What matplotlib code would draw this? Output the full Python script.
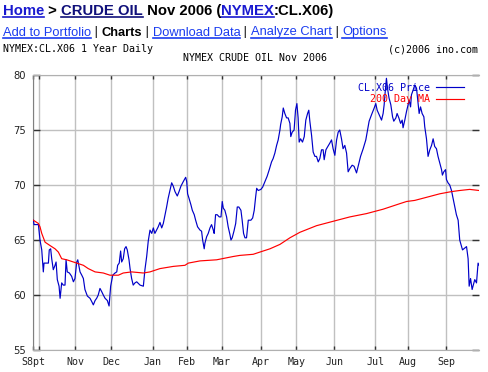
import numpy as np
import matplotlib
matplotlib.use("Agg")
import matplotlib.pyplot as plt
from matplotlib.lines import Line2D

W, H = 489, 372

# trading-day index (0 = late Sep 2005) and settle price
price_day = [0.0, 0.4, 2.9, 3.8, 4.8, 5.7, 6.1, 8.6, 9.1, 9.9, 10.5, 11.4, 12.4, 13.0, 13.7,
             14.7, 15.3, 16.2, 17.1, 18.1, 18.7, 19.4, 20.6, 21.9, 22.9, 23.8, 24.8, 25.4,
             26.1, 26.7, 27.7, 28.6, 29.5, 30.9, 32.4, 33.4, 34.3, 35.3, 36.2, 37.1, 38.1,
             39.1, 40.0, 41.0, 42.3, 43.3, 44.2, 45.4, 46.7, 47.7, 48.2, 49.1, 49.9, 50.5,
             51.4, 52.2, 53.0, 53.7, 54.7, 55.3, 56.2, 57.1, 58.1, 59.1, 61.0, 62.9, 63.8,
             64.8, 65.7, 66.7, 67.7, 68.6, 69.5, 71.4, 72.4, 73.4, 74.3, 75.3, 76.2, 77.1,
             78.1, 79.1, 80.0, 81.0, 82.3, 83.3, 84.4, 85.7, 87.1, 87.7, 88.2, 89.0, 90.1,
             90.9, 92.0, 92.8, 93.9, 95.3, 96.2, 96.8, 97.7, 98.1, 99.1, 100.0, 101.0, 101.9,
             102.9, 103.4, 104.2, 105.1, 106.3, 107.3, 108.0, 108.6, 109.5, 110.5, 111.4,
             112.4, 113.0, 113.7, 114.7, 115.7, 116.6, 117.5, 118.7, 119.4, 120.2, 121.0,
             121.9, 122.9, 124.4, 125.4, 126.3, 127.1, 127.7, 128.6, 130.1, 131.1, 132.4,
             133.7, 134.9, 136.2, 137.1, 138.1, 139.1, 140.0, 141.0, 141.4, 142.3, 142.9,
             143.8, 144.8, 145.7, 146.7, 147.2, 148.0, 149.1, 149.9, 150.7, 151.4, 152.0,
             152.8, 153.9, 154.9, 155.8, 156.8, 157.5, 158.1, 159.1, 160.0, 161.0, 161.9,
             162.9, 163.8, 164.8, 165.7, 166.3, 167.3, 168.0, 169.5, 170.5, 171.4, 172.4,
             173.4, 174.3, 175.2, 176.2, 177.1, 178.1, 179.1, 180.0, 181.0, 182.3, 183.4,
             184.8, 185.7, 187.1, 188.6, 190.1, 191.1, 192.0, 193.4, 194.9, 195.8, 196.6,
             197.7, 199.1, 200.0, 200.6, 201.1, 201.9, 202.5, 203.4, 204.4, 205.4, 206.1,
             207.3, 208.0, 209.0, 210.0, 210.9, 211.4, 212.4, 213.4, 214.3, 214.9, 215.7,
             216.2, 217.1, 218.1, 219.1, 220.0, 220.6, 221.4, 222.3, 223.3, 223.8, 224.8,
             225.7, 226.7, 227.7, 228.6, 229.5, 230.5, 231.4, 232.4, 233.4, 233.9, 234.7,
             235.7, 236.2, 237.1, 238.1, 239.1, 240.0, 241.0, 241.9, 242.9, 243.8, 245.4,
             247.7, 248.6, 249.2, 250.0, 250.9, 252.4, 253.4, 254.3, 254.9]
price = [66.8, 66.4, 66.4, 65.0, 64.1, 62.1, 62.9, 62.9, 64.1, 64.2, 63.3, 62.3, 62.7, 63.0, 61.4,
         60.8, 59.7, 61.1, 60.9, 60.9, 63.2, 62.1, 62.0, 61.7, 61.2, 61.5, 63.0, 63.2,
         62.6, 62.1, 61.8, 61.5, 60.5, 59.9, 59.7, 59.4, 59.1, 59.5, 59.7, 60.0, 60.6,
         60.3, 60.0, 59.7, 59.5, 59.0, 60.8, 61.8, 62.0, 62.1, 62.7, 62.9, 64.0, 63.0,
         63.3, 64.2, 64.4, 64.1, 63.2, 62.4, 61.5, 60.9, 61.1, 61.2, 60.9, 60.8, 62.3,
         63.5, 64.9, 65.9, 65.6, 66.1, 65.6, 66.2, 66.6, 66.1, 66.5, 67.3, 68.0, 68.8,
         69.5, 70.2, 69.9, 69.4, 69.0, 69.4, 69.9, 70.3, 70.7, 70.3, 69.2, 68.8, 68.2,
         67.7, 67.3, 66.8, 66.2, 65.9, 65.8, 65.0, 64.2, 64.7, 65.3, 65.6, 66.1, 66.4,
         65.9, 65.6, 67.3, 67.3, 67.1, 67.1, 68.5, 67.9, 67.7, 67.1, 66.2,
         65.5, 65.0, 65.2, 65.8, 66.5, 68.0, 68.0, 67.7, 66.8, 65.6, 65.2,
         65.2, 66.8, 66.8, 67.0, 67.7, 68.9, 69.7, 69.5, 69.6, 69.8, 70.3,
         70.8, 71.4, 72.1, 72.4, 72.9, 73.6, 74.1, 75.0, 75.5, 76.2, 77.0,
         76.5, 76.1, 76.1, 75.6, 74.4, 74.8, 75.0, 76.8, 77.4, 76.1, 73.9,
         74.2, 73.9, 74.4, 75.9, 76.5, 76.8, 75.8, 74.5, 73.0, 72.6, 72.6,
         72.1, 72.4, 73.2, 73.2, 72.3, 73.2, 73.4, 73.8, 74.1, 73.3, 72.7,
         74.1, 74.8, 75.0, 74.2, 73.3, 73.6, 72.9, 71.2, 71.5, 71.8, 71.7,
         71.1, 71.7, 72.6, 73.3, 74.1, 75.0, 75.8, 76.4, 77.0, 77.4, 76.8,
         76.4, 75.9, 76.5, 77.3, 78.3, 79.7, 78.8, 77.9, 77.3, 76.2, 75.8,
         76.1, 76.5, 76.1, 75.6, 75.9, 75.2, 75.9, 76.7, 77.3, 77.7, 77.1,
         78.2, 78.6, 79.1, 78.8, 77.4, 76.5, 77.1, 76.5, 76.2, 75.3, 74.2,
         72.6, 73.2, 73.6, 74.2, 73.5, 73.3, 72.6, 72.0, 71.4, 70.9, 71.2,
         71.4, 70.5, 70.2, 70.0, 69.5, 68.8, 68.0, 67.3, 66.8, 65.0, 64.1,
         64.4, 63.3, 60.8, 61.5, 60.5, 61.4, 61.1, 62.9, 62.7]

ma_day = [0.0, 2.9, 3.8, 4.8, 6.7, 9.5, 12.4, 14.3, 16.2, 19.1, 24.8, 28.6, 31.4, 35.3, 40.0,
          43.8, 48.6, 51.4, 56.2, 62.9, 66.7, 72.4, 80.0, 86.7, 88.6, 95.3, 104.8, 114.3,
          118.1, 125.7, 129.5, 135.3, 141.0, 146.7, 152.4, 161.9, 171.4, 181.0, 190.5,
          200.0, 203.8, 209.5, 213.4, 218.1, 222.9, 232.4, 239.1, 243.8, 249.5, 254.9]
ma200 = [66.8, 66.5, 66.2, 65.6, 64.8, 64.5, 64.2, 63.9, 63.3, 63.2, 62.9, 62.7, 62.4, 62.1, 62.0,
         61.8, 61.8, 62.0, 62.1, 62.0, 62.1, 62.4, 62.6, 62.7, 62.9, 63.1, 63.2, 63.5,
         63.6, 63.7, 63.9, 64.2, 64.6, 65.2, 65.7, 66.3, 66.7, 67.1, 67.4,
         67.8, 68.0, 68.3, 68.5, 68.6, 68.8, 69.2, 69.4, 69.5, 69.6, 69.5]

month_day = [0.0, 3.4, 24.0, 44.6, 68.2, 88.0, 107.7, 130.3, 150.3, 172.2, 195.4, 214.3, 236.2]
month_lbl = ['S8pt', '', 'Nov', 'Dec', 'Jan', 'Feb', 'Mar', 'Apr', 'May', 'Jun', 'Jul', 'Aug', 'Sep']
y_ticks = [55, 60, 65, 70, 75, 80]

fig = plt.figure(figsize=(W / 100, H / 100), dpi=100)
ax = fig.add_axes([33 / W, 1 - 350 / H, (479.3 - 33) / W, 275 / H])

ax.plot(price_day, price, color='#0000c8', lw=0.85, label='CL.X06 Price', zorder=3)
ax.plot(ma_day, ma200, color='#ff0000', lw=0.85, label='200 Day MA', zorder=3)

ax.set_xlim(-0.2, 255.0)
ax.set_ylim(55, 80)
ax.set_xticks(month_day)
ax.set_xticklabels(month_lbl, family='DejaVu Sans Mono', fontsize=7.2)
ax.set_yticks(y_ticks)
ax.set_yticklabels([str(v) for v in y_ticks], fontsize=7.2)
ax.grid(True, color='#c0c0c0', lw=1.0)
ax.tick_params(axis='x', direction='in', length=3, width=1, color='#333333',
               top=True, pad=5, labelcolor='#222222')
ax.tick_params(axis='y', direction='in', length=5, width=1, color='#333333',
               right=True, pad=5, labelcolor='#222222')
for s in ['top', 'bottom']:
    ax.spines[s].set_color('#b0b0b0')
ax.spines['left'].set_color('#808080')
ax.spines['right'].set_visible(False)

leg = ax.legend(loc='upper right', bbox_to_anchor=(0.985, 1.005), markerfirst=False,
                frameon=False, labelcolor='linecolor', handlelength=2.8, handletextpad=0.6,
                labelspacing=0.15, prop={'family': 'DejaVu Sans Mono', 'size': 7.2})

# page header above the chart
renderer = fig.canvas.get_renderer()


def text_run(x_px, base_px, pieces, size, family):
    x = x_px
    for s, color, weight, uline in pieces:
        t = fig.text(x / W, 1 - base_px / H, s, fontsize=size, color=color,
                     fontweight=weight, family=family, va='baseline')
        bb = t.get_window_extent(renderer)
        if uline:
            yy = 1 - (base_px + 2) / H
            fig.add_artist(Line2D([bb.x0 / W, bb.x1 / W], [yy, yy], color=color, lw=1.2))
        x = bb.x1


blue = '#1a1ad0'
navy = '#10107a'
link = '#1a3cf0'
text_run(3, 15, [('Home', blue, 'bold', True), (' > ', 'black', 'bold', False),
                 ('CRUDE OIL', navy, 'bold', True), (' Nov 2006 (', 'black', 'bold', False),
                 ('NYMEX', blue, 'bold', True), (':CL.X06)', 'black', 'bold', False)],
         10.7, 'Liberation Sans')
text_run(3, 35.5, [('Add to Portfolio', link, 'normal', True), (' | ', 'black', 'normal', False),
                   ('Charts', 'black', 'bold', False), (' | ', 'black', 'normal', False),
                   ('Download Data', link, 'normal', True), (' | ', 'black', 'normal', False),
                   ('Analyze Chart', link, 'normal', True), (' | ', 'black', 'normal', False),
                   ('Options', link, 'normal', True)],
         9.3, 'Liberation Sans')

fig.text(3 / W, 1 - 49 / H, 'NYMEX:CL.X06 1 Year Daily', fontsize=7.2,
         family='DejaVu Sans Mono', va='center', ha='left')
fig.text(478 / W, 1 - 49 / H, '(c)2006 ino.com', fontsize=7.2,
         family='DejaVu Sans Mono', va='center', ha='right')
fig.text(255 / W, 1 - 58 / H, 'NYMEX CRUDE OIL Nov 2006', fontsize=7.2,
         family='DejaVu Sans Mono', va='center', ha='center')

fig.savefig('out.png', dpi=100)
